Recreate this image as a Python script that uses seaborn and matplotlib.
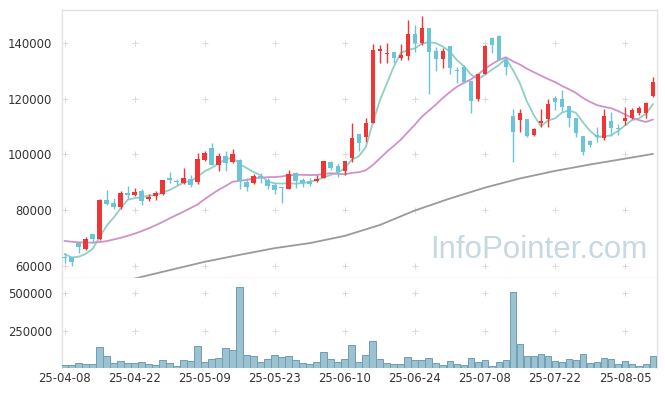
import numpy as np
import pandas as pd
import matplotlib
matplotlib.use("Agg")
import matplotlib.pyplot as plt
import seaborn as sns

# ---- datos (85 dias habiles, 25-04-08 .. 25-08-11) ----
open_ = [63300, 63100, 68400, 66000, 71400, 69800, 83700, 82600, 81000, 86200,
         85500, 87000, 84100, 85200, 85700, 91600, 90600, 89900, 91200, 90100,
         98000, 102200, 96300, 99500, 97300, 98000, 90200, 89900, 92300, 90900,
         89100, 88100, 87600, 93300, 90900, 90500, 90500, 91500, 97300, 95900,
         94200, 98900, 107400, 106200, 111400, 137300, 136100, 136600, 134700, 135300,
         143200, 140100, 145300, 137100, 134300, 138900, 130400, 131500, 126400, 119800,
         128900, 141900, 142600, 133900, 113800, 112400, 112700, 107000, 111200, 112800,
         120300, 119900, 117400, 113000, 106600, 104700, 107000, 105800, 112000, 109300,
         112100, 113000, 115000, 114800, 121000]
high = [64600, 63300, 68700, 70500, 71400, 84000, 87300, 84300, 86800, 88700,
        88000, 87500, 85700, 86900, 90900, 93800, 91300, 95000, 92800, 100700,
        101300, 104000, 100400, 101400, 101900, 98300, 91600, 93000, 93300, 91500,
        89700, 88500, 94400, 93800, 91700, 91500, 92600, 97700, 97500, 96900,
        97700, 111400, 107400, 113000, 139500, 139300, 140100, 136600, 139500, 148300,
        146500, 149700, 145300, 138700, 138300, 138900, 131500, 132000, 126400, 128900,
        139300, 142300, 143000, 135100, 116200, 116200, 112700, 109600, 116200, 119800,
        121000, 123100, 117400, 113000, 106600, 105200, 109800, 116200, 115400, 110900,
        116900, 116600, 117400, 118900, 127700]
low = [61000, 60000, 64600, 65900, 68100, 69500, 81800, 80300, 80600, 83900,
       85100, 81800, 83400, 83700, 85400, 89700, 89000, 89500, 88200, 89500,
       97700, 96200, 94100, 94200, 96800, 87500, 87000, 89400, 89700, 87700,
       85700, 82500, 87600, 87900, 88500, 88800, 90000, 91500, 94500, 92000,
       92700, 97200, 101400, 104600, 111400, 132700, 132700, 132700, 133900, 133900,
       136900, 139300, 121700, 130100, 130900, 128900, 125500, 125500, 114800, 119300,
       128900, 136300, 133900, 128500, 97400, 108100, 106200, 106600, 109800, 110000,
       116000, 115600, 110000, 106400, 99800, 102600, 104600, 105200, 106600, 107000,
       110600, 112600, 114200, 113000, 120700]
close = [62800, 61500, 66900, 69600, 69800, 83700, 82200, 81300, 86100, 85500,
         86600, 83400, 84900, 86200, 90900, 90900, 90000, 91600, 89200, 98400,
         100700, 96200, 99500, 97100, 100200, 90400, 88400, 92300, 91500, 88800,
         87300, 87900, 93000, 90600, 89900, 89400, 91200, 97700, 95300, 93800,
         97700, 106000, 104000, 111400, 137500, 137700, 136500, 134700, 135700, 143200,
         140100, 145300, 136900, 134300, 137100, 131200, 130000, 125900, 119300, 128900,
         138900, 139300, 133900, 131500, 108100, 115000, 106600, 109200, 112000, 118100,
         118700, 117200, 113000, 107800, 101000, 103500, 106400, 113800, 109600, 109000,
         113200, 116000, 116800, 118400, 126000]
volume = [22300, 22300, 35700, 29000, 29000, 143000, 82700, 35700, 49100, 35700,
          35700, 42400, 29000, 22300, 55900, 35700, 15600, 55900, 49100, 149700,
          42400, 62600, 69300, 136300, 122900, 545000, 89400, 82700, 42400, 62600,
          89400, 76000, 82700, 55900, 35700, 29000, 42400, 109500, 62600, 42400,
          62600, 156400, 42400, 89400, 183200, 62600, 35700, 29000, 29000, 76000,
          55900, 55900, 69300, 35700, 22300, 49100, 29000, 22300, 69300, 42400,
          55900, 15600, 42400, 55900, 511600, 163100, 82700, 82700, 96100, 82700,
          49100, 42400, 62600, 55900, 96100, 35700, 42400, 69300, 62600, 29000,
          49100, 29000, 15600, 29000, 82700]
ma5 = [64300, 63100, 63300, 64300, 66120, 70300, 74440, 77320, 80620, 83760,
       84340, 84580, 85300, 85320, 86400, 87260, 88580, 89920, 90520, 92020,
       93980, 95220, 96800, 98380, 98740, 96680, 95120, 93680, 92560, 90280,
       89660, 89560, 89700, 89520, 89740, 90160, 90820, 91760, 92700, 93480,
       95140, 98100, 99360, 102580, 111320, 119320, 125420, 131560, 136420, 137560,
       138040, 139800, 140240, 139960, 138740, 136960, 133900, 131700, 128700, 127060,
       128600, 130460, 132060, 134500, 130340, 125560, 119020, 114080, 110180, 112180,
       112920, 115040, 115800, 114960, 111540, 108500, 106340, 106500, 106860, 108460,
       110400, 112320, 112920, 114680, 118080]
ma20 = [69000, 68700, 68500, 68400, 68400, 68600, 68900, 69500, 70100, 70800,
        71600, 72500, 73500, 74600, 75800, 77100, 78300, 79500, 80800, 82075,
        83970, 85705, 87335, 88710, 90230, 90565, 90875, 91425, 91695, 91860,
        91895, 92120, 92525, 92745, 92695, 92620, 92680, 92985, 93290, 93060,
        92910, 93400, 93625, 94340, 96205, 98570, 100975, 103095, 105305, 108025,
        110665, 113535, 115730, 117915, 120275, 122365, 124305, 125715, 126915, 128670,
        130730, 132395, 133890, 134895, 133425, 132290, 130795, 129520, 128335, 127080,
        126010, 124605, 123410, 122085, 120280, 118895, 117715, 117110, 116625, 115630,
        114345, 113180, 112325, 111670, 112565]
ma_long_idx = [10, 15, 20, 25, 30, 35, 40, 45, 50, 55, 60, 65, 70, 75, 80, 84]
ma_long = [55500, 58500, 61500, 64000, 66400, 68200, 70800, 74700, 79900, 84200,
           88100, 91400, 94100, 96400, 98500, 100200]

tick_pos = [0, 10, 20, 30, 40, 50, 60, 70, 80]
tick_labels = ['25-04-08', '25-04-22', '25-05-09', '25-05-23', '25-06-10',
               '25-06-24', '25-07-08', '25-07-22', '25-08-05']
price_ticks = [60000, 80000, 100000, 120000, 140000]
vol_ticks = [250000, 500000]

df = pd.DataFrame({'o': open_, 'h': high, 'l': low, 'c': close, 'v': volume,
                   'ma5': ma5, 'ma20': ma20})
df['i'] = np.arange(len(df))
df_long = pd.DataFrame({'i': ma_long_idx, 'ma': ma_long})

UP = '#ef3535'
DOWN = '#6cc4d9'
SPINE = '#e3e3e3'
TXT = '#333333'

sns.set_theme(style='white')
plt.rcParams['font.family'] = ['DejaVu Sans']

W, H = 665, 396
fig = plt.figure(figsize=(W / 100, H / 100), dpi=100)
ax = fig.add_axes([62 / W, 1 - 277.5 / H, 594.5 / W, 267.5 / H])
axv = fig.add_axes([62 / W, 28 / H, 594.5 / W, 90.5 / H], sharex=ax)

# lineas de media movil
sns.lineplot(data=df, x='i', y='ma5', ax=ax, color='#8fd0c5', lw=1.3, zorder=2)
sns.lineplot(data=df, x='i', y='ma20', ax=ax, color='#cf92c9', lw=1.3, zorder=2)
sns.lineplot(data=df_long, x='i', y='ma', ax=ax, color='#9a9a9a', lw=1.3, zorder=2)

# velas
up = df['c'] >= df['o']
colors = np.where(up, UP, DOWN)
body_lo = np.minimum(df['o'], df['c'])
body_h = np.maximum(np.abs(df['c'] - df['o']), 400)
ax.vlines(df['i'], df['l'], df['h'], colors=colors, lw=1.0, zorder=3)
ax.bar(df['i'], body_h, bottom=body_lo, width=0.64, color=colors, lw=0, zorder=4)

# volumen
axv.bar(df['i'], df['v'], width=0.95, color='#9cc1d1', edgecolor='#6f9fb4', lw=0.7, zorder=3)

# marcas de cuadricula en forma de cruz
gx, gy = np.meshgrid(tick_pos, price_ticks)
ax.scatter(gx.ravel(), gy.ravel(), marker='+', s=14, color='#d9d9d9', lw=0.7, zorder=1)
gx, gy = np.meshgrid(tick_pos, vol_ticks)
axv.scatter(gx.ravel(), gy.ravel(), marker='+', s=14, color='#d9d9d9', lw=0.7, zorder=1)

ax.text(0.985, 0.045, 'InfoPointer.com', transform=ax.transAxes, ha='right', va='bottom',
        fontsize=22.5, color='#c6d9e3', family=['Liberation Sans', 'DejaVu Sans'], zorder=5)

ax.set_xlim(-0.36, 84.5)
ax.set_ylim(55870, 151840)
axv.set_ylim(0, 606500)

ax.set_yticks(price_ticks)
ax.set_yticklabels([str(t) for t in price_ticks])
axv.set_yticks(vol_ticks)
axv.set_yticklabels([str(t) for t in vol_ticks])
axv.set_xticks(tick_pos)
axv.set_xticklabels(tick_labels)
ax.tick_params(axis='x', labelbottom=False, length=0)
ax.tick_params(axis='y', length=0, pad=7, labelsize=8.4, labelcolor=TXT)
axv.tick_params(axis='y', length=0, pad=7, labelsize=8.4, labelcolor=TXT)
axv.tick_params(axis='x', length=0, pad=3, labelsize=8.4, labelcolor=TXT)

for a in (ax, axv):
    a.set_xlabel('')
    a.set_ylabel('')
    for s in a.spines.values():
        s.set_color(SPINE)
        s.set_linewidth(1.0)
axv.spines['top'].set_visible(False)
axv.spines['bottom'].set_visible(False)

fig.savefig('out.png', dpi=100)
